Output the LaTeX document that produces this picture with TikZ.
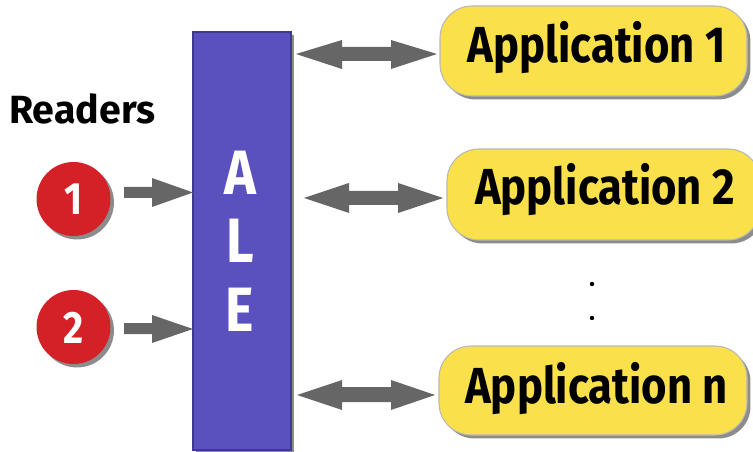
\documentclass[tikz,border=0pt]{standalone}
\usepackage{fontspec}
\setmainfont{Fira Sans}
\newfontfamily\condsans{Fira Sans}[FakeStretch=0.86]
\usetikzlibrary{shadows}
\definecolor{aleblue}{HTML}{5A50BE}
\definecolor{aleedge}{HTML}{3E3890}
\definecolor{appyellow}{HTML}{FAE04A}
\definecolor{appedge}{HTML}{B8B8B8}
\definecolor{readred}{HTML}{D32127}
\definecolor{arrowgray}{HTML}{666666}
\definecolor{shadowgray}{HTML}{8C8C8C}
\tikzset{
  box shadow/.style={drop shadow={shadow xshift=2.6pt,shadow yshift=-2.6pt,fill=shadowgray,opacity=1}},
  alebox/.style={draw=aleedge,line width=0.8pt,fill=aleblue,box shadow},
  appbox/.style={draw=appedge,line width=0.8pt,fill=appyellow,rounded corners=24pt,box shadow},
  reader/.style={circle,fill=readred,box shadow,minimum size=55.5pt,inner sep=0pt,
    text=white,font=\condsans\bfseries\fontsize{34}{34}\selectfont},
  apptext/.style={font=\condsans\bfseries\fontsize{38}{38}\selectfont,text=black,inner sep=0pt},
  aletext/.style={font=\condsans\bfseries\fontsize{47}{47}\selectfont,text=white,inner sep=0pt},
  block/.style={fill=arrowgray,draw=none},
}
\begin{document}
\begin{tikzpicture}[x=0.75pt,y=-0.75pt]
\useasboundingbox (0,0) rectangle (753,452);

% ALE layer
\path[alebox] (193,32) rectangle (291,450);
\node[aletext,anchor=base] (A) at (240,195) {A};
\node[aletext,anchor=base] (L) at (240,263) {L};
\node[aletext,anchor=base] (E) at (240,331) {E};

% applications
\path[appbox] (440,6) rectangle (747,96);
\node[apptext,anchor=base] (app1) at (596.5,63) {Application 1};
\path[appbox] (447,149) rectangle (760,240);
\node[apptext,anchor=base] (app2) at (605,205) {Application 2};
\path[appbox] (439,346) rectangle (747,435);
\node[apptext,anchor=base] (appn) at (596.5,403) {Application n};

% readers
\node[font=\bfseries\fontsize{29.5}{29.5}\selectfont,anchor=base west,inner sep=0pt] (readers) at (9,124) {Readers};
\node[reader] (r1) at (73.5,199) {};
\node[reader] (r2) at (73.5,327) {};
\node[font=\condsans\bfseries\fontsize{34}{34}\selectfont,text=white,anchor=base,inner sep=0pt] (n1) at (r1.center) [yshift=-12pt] {1};
\node[font=\condsans\bfseries\fontsize{34}{34}\selectfont,text=white,anchor=base,inner sep=0pt] (n2) at (r2.center) [yshift=-12pt] {2};

% ellipsis between applications
\fill (592,284) circle (2.2);
\fill (592,318) circle (2.2);

% reader arrows into ALE
\path[block] (124,187) -- (152,187) -- (152,178) -- (193,192.5) -- (152,207) -- (152,198) -- (124,198) -- cycle;
\path[block] (124,323) -- (152,323) -- (152,315) -- (193,329) -- (152,343) -- (152,334) -- (124,334) -- cycle;

% double arrows ALE <-> applications
\path[block] (296,54) -- (342,40) -- (342,47) -- (391,47) -- (391,40) -- (437,54) -- (391,69) -- (391,61) -- (342,61) -- (342,69) -- cycle;
\path[block] (304,198) -- (349,183) -- (349,191) -- (398,191) -- (398,183) -- (443,198) -- (398,213) -- (398,205) -- (349,205) -- (349,213) -- cycle;
\path[block] (297,395) -- (342,380) -- (342,387) -- (391,387) -- (391,380) -- (435,395) -- (391,410) -- (391,402) -- (342,402) -- (342,410) -- cycle;
\end{tikzpicture}
\end{document}
